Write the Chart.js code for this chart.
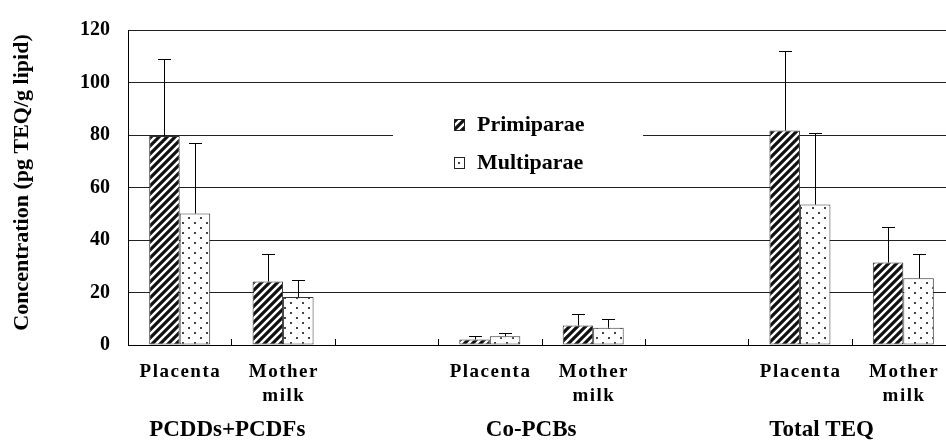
<!DOCTYPE html>
<html>
<head>
<meta charset="utf-8">
<script src="https://cdn.jsdelivr.net/npm/chart.js@4"></script>
<style>
html, body { margin: 0; padding: 0; background: #fff; overflow: hidden; width: 946px; height: 440px; }
#chart { display: block; }
</style>
</head>
<body>
<canvas id="chart" width="961" height="440"></canvas>
<script>
// data (pg TEQ/g lipid), mean and upper SD
var categories = ['Placenta', 'Mother milk', '', 'Placenta', 'Mother milk', '', 'Placenta', 'Mother milk'];
var groups = ['PCDDs+PCDFs', 'Co-PCBs', 'Total TEQ'];
var seriesNames = ['Primiparae', 'Multiparae'];
var primiparae = [79.6, 24.2, null, 2.1, 7.4, null, 81.7, 31.4];
var primiparaeSD = [29.3, 10.4, null, 1.2, 4.3, null, 30.4, 13.6];
var multiparae = [50.1, 18.3, null, 3.3, 6.6, null, 53.5, 25.4];
var multiparaeSD = [26.9, 6.6, null, 1.4, 3.3, null, 27.4, 9.2];
var yTicks = [0, 20, 40, 60, 80, 100, 120];
var yTitle = 'Concentration (pg TEQ/g lipid)';

var SERIF = "'Liberation Serif', 'Times New Roman', serif";
Chart.defaults.font.family = SERIF;
Chart.defaults.color = '#000';

function hatchPattern() {
    var c = document.createElement('canvas');
    c.width = 8; c.height = 8;
    var g = c.getContext('2d');
    g.fillStyle = '#fff';
    g.fillRect(0, 0, 8, 8);
    g.strokeStyle = '#111';
    g.lineWidth = 3.2;
    g.beginPath();
    g.moveTo(-2, 10); g.lineTo(10, -2);
    g.moveTo(-6, 6); g.lineTo(6, -6);
    g.moveTo(2, 14); g.lineTo(14, 2);
    g.stroke();
    return g.createPattern(c, 'repeat');
}

function dotPattern() {
    var c = document.createElement('canvas');
    c.width = 12; c.height = 10;
    var g = c.getContext('2d');
    g.fillStyle = '#fff';
    g.fillRect(0, 0, 12, 10);
    g.fillStyle = '#444';
    g.fillRect(2, 2, 2, 2);
    g.fillRect(8, 7, 2, 2);
    return g.createPattern(c, 'repeat');
}

var fills = [hatchPattern(), dotPattern()];

// upper error bars only
var errorBars = {
    id: 'errorBars',
    afterDatasetsDraw: function (chart) {
        var ctx = chart.ctx;
        var y = chart.scales.y;
        chart.data.datasets.forEach(function (ds, di) {
            var meta = chart.getDatasetMeta(di);
            meta.data.forEach(function (bar, i) {
                var v = ds.data[i], sd = ds.sd[i];
                if (v == null || sd == null) return;
                var top = Math.round(y.getPixelForValue(v + sd)) + 0.5;
                var x = Math.round(bar.x) + 0.5;
                ctx.save();
                ctx.strokeStyle = '#000';
                ctx.lineWidth = 1;
                ctx.beginPath();
                ctx.moveTo(x, bar.y);
                ctx.lineTo(x, top);
                ctx.moveTo(x - 6.5, top);
                ctx.lineTo(x + 6.5, top);
                ctx.stroke();
                ctx.restore();
            });
        });
    }
};

// legend box sitting inside the plot
var boxLegend = {
    id: 'boxLegend',
    afterDatasetsDraw: function (chart) {
        var ctx = chart.ctx;
        var area = chart.chartArea;
        var left = area.left + 265, top = area.top + 64;
        ctx.save();
        ctx.fillStyle = '#fff';
        ctx.fillRect(left, top, 250, 90);
        ctx.font = 'bold 22px ' + SERIF;
        ctx.textBaseline = 'alphabetic';
        ctx.textAlign = 'left';
        for (var i = 0; i < seriesNames.length; i++) {
            var iy = top + 25 + i * 38;
            ctx.fillStyle = fills[i];
            ctx.fillRect(left + 61, iy, 10, 11);
            ctx.strokeStyle = '#222';
            ctx.lineWidth = 1;
            ctx.strokeRect(left + 61.5, iy + 0.5, 10, 11);
            ctx.fillStyle = '#000';
            ctx.fillText(seriesNames[i], left + 84, iy + 12);
        }
        ctx.restore();
    }
};

// category labels, inner tick marks, group names and the y title
var xLabels = {
    id: 'xLabels',
    afterDraw: function (chart) {
        var ctx = chart.ctx;
        var x = chart.scales.x;
        var base = chart.chartArea.bottom;
        var slot = x.getPixelForValue(1) - x.getPixelForValue(0);
        ctx.save();
        ctx.strokeStyle = '#000';
        ctx.lineWidth = 1;
        ctx.beginPath();
        for (var i = 0; i < categories.length - 1; i++) {
            var tx = Math.round(x.getPixelForValue(i) + slot / 2) + 0.5;
            ctx.moveTo(tx, base);
            ctx.lineTo(tx, base - 6);
        }
        ctx.stroke();

        ctx.fillStyle = '#000';
        ctx.textAlign = 'left';
        ctx.textBaseline = 'alphabetic';
        ctx.font = 'bold 19px ' + SERIF;
        ctx.letterSpacing = '1.5px';
        categories.forEach(function (label, i) {
            if (!label) return;
            var lines = label.split(' ');
            var cx = x.getPixelForValue(i);
            lines.forEach(function (line, k) {
                var w = ctx.measureText(line).width - 1.5;
                ctx.fillText(line, cx - w / 2, base + 32 + k * 24);
            });
        });

        ctx.letterSpacing = '0px';
        ctx.font = 'bold 23px ' + SERIF;
        ctx.textAlign = 'center';
        var shift = [0.46, 0.40, 0.21];
        groups.forEach(function (g, j) {
            var gx = x.getPixelForValue(j * 3) + shift[j] * slot;
            ctx.fillText(g, gx, base + 91);
        });

        // y title, a little above the plot middle like the original
        ctx.font = 'bold 22px ' + SERIF;
        ctx.textBaseline = 'middle';
        ctx.translate(22, (chart.chartArea.top + base) / 2 - 5);
        ctx.rotate(-Math.PI / 2);
        ctx.fillText(yTitle, 0, 0);
        ctx.restore();
    }
};

var ctx = document.getElementById('chart');

var chart = new Chart(ctx, {
    type: 'bar',
    plugins: [errorBars, boxLegend, xLabels],
    data: {
        labels: categories,
        datasets: [{
            label: seriesNames[0],
            data: primiparae,
            sd: primiparaeSD,
            backgroundColor: fills[0],
            borderColor: '#333',
            borderWidth: 1,
            borderSkipped: false
        }, {
            label: seriesNames[1],
            data: multiparae,
            sd: multiparaeSD,
            backgroundColor: fills[1],
            borderColor: '#333',
            borderWidth: 1,
            borderSkipped: false
        }]
    },
    options: {
        responsive: false,
        animation: false,
        layout: {
            padding: { top: 21, right: 6, left: 0, bottom: 0 }
        },
        datasets: {
            bar: { categoryPercentage: 0.59, barPercentage: 1.0 }
        },
        plugins: {
            legend: { display: false },
            tooltip: { enabled: false }
        },
        scales: {
            x: {
                ticks: { display: false },
                grid: { display: false },
                border: { color: '#000', width: 1 },
                afterFit: function (s) { s.height = 95; }
            },
            y: {
                min: 0,
                max: 120,
                afterBuildTicks: function (s) {
                    s.ticks = yTicks.map(function (v) { return { value: v }; });
                },
                ticks: {
                    color: '#000',
                    padding: 18,
                    font: { size: 20, weight: 'bold' }
                },
                grid: { color: '#222', lineWidth: 1, drawTicks: false },
                border: { color: '#000', width: 1 },
                afterFit: function (s) { s.width = 128; }
            }
        }
    }
});
</script>
</body>
</html>
